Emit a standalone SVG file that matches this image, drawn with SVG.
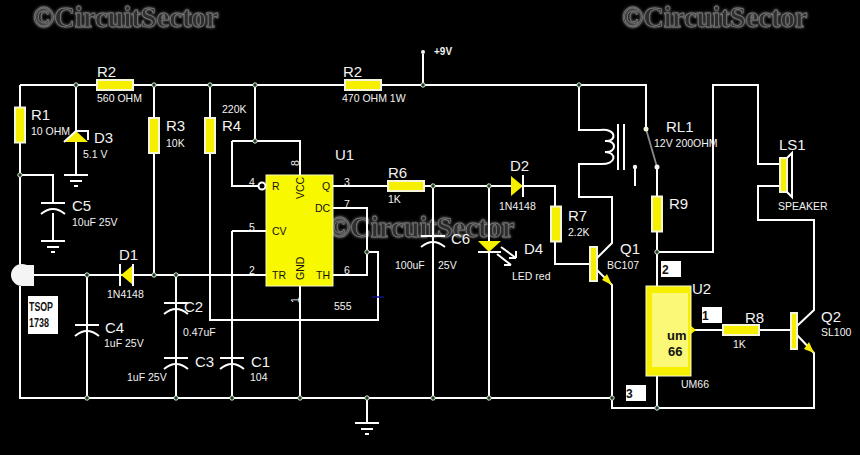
<svg xmlns="http://www.w3.org/2000/svg" width="860" height="455" viewBox="0 0 860 455">
<defs>
<style>
text{font-family:"Liberation Sans",Arial,sans-serif;fill:#f2f2f2}
.b{font-size:15px}
.s{font-size:10.5px}
.c{font-size:10.5px;fill:#111}
.w{fill:none;stroke:#fff;stroke-width:2}
.r{fill:#f6f000;stroke:#f4f4d8;stroke-width:2}
.y{fill:#f6f000}
.p{fill:#f4f4f4}
.wm{font-family:"Liberation Serif",serif;font-weight:bold;font-size:28.500px;fill:#2e2e2e;stroke:#777;stroke-width:.8;filter:url(#glow)}
</style>
<filter id="glow" x="-10%" y="-40%" width="120%" height="180%">
<feGaussianBlur in="SourceAlpha" stdDeviation="1.600" result="bl"/>
<feFlood flood-color="#8a8a8a"/>
<feComposite in2="bl" operator="in" result="halo"/>
<feMerge><feMergeNode in="halo"/><feMergeNode in="SourceGraphic"/></feMerge>
</filter>
<circle id="j" r="2.200" fill="#1c3a20" stroke="#d8e8d8" stroke-width="1"/>
<rect id="rh" x="-18" y="-5" width="36" height="10" class="r"/>
<rect id="rv" x="-5" y="-17.500" width="10" height="35" class="r"/>
<g id="cap"><path class="w" d="M-12 0H12M-12 11Q0 1 12 11"/></g>
<g id="gnd"><path class="w" d="M-12 0H12M-6 6H6M-2 11H2"/></g>
</defs>
<rect width="860" height="455" fill="#000"/>
<g id="watermarks">
<text class="wm" x="33" y="27">©CircuitSector</text>
<text class="wm" x="622" y="27">©CircuitSector</text>
<text class="wm" x="329" y="237">©CircuitSector</text>
</g>
<g id="connectors">
<path class="w" d="M20 85H646V129"/>
<path class="w" d="M423 85V54"/>
<path class="w" d="M20 85V265M20 286V398H612V408H814V353L797 335"/>
<path class="w" d="M20 175H53V203M53 213V241"/>
<path class="w" d="M76 85V131M76 142V175"/>
<path class="w" d="M154 85V275M210 85V320H378V252H367"/>
<path class="w" d="M255 85V141M232 141H300V175M232 141V186H259"/>
<path class="w" d="M232 231H266M232 231V398"/>
<path class="w" d="M34 275H266M87 275V398M176 275V398"/>
<path class="w" d="M300 286V398M367 398V422"/>
<path class="w" d="M333 208H367V275H333"/>
<path class="w" d="M333 186H555V264H589"/>
<path class="w" d="M433 186V398M489 186V398"/>
<path class="w" d="M579 85V130H600M600 164H579V197H612V243L597 258"/>
<path class="w" d="M597 270L612 285V398"/>
<path class="w" d="M657 167V252H713V85H758V164H780M780 186H758V220H814V310L797 326"/>
<path class="w" d="M657 252V286M657 376V408"/>
<path class="w" d="M691 330H791"/>
<path d="M646 129L657 167" fill="none" stroke="#8a8a8a" stroke-width="1.800"/>
<use href="#j" x="76" y="85"/><use href="#j" x="154" y="85"/><use href="#j" x="210" y="85"/><use href="#j" x="255" y="85"/><use href="#j" x="423" y="85"/><use href="#j" x="579" y="85"/>
<use href="#j" x="20" y="175"/><use href="#j" x="255" y="141"/><use href="#j" x="87" y="275"/><use href="#j" x="154" y="275"/><use href="#j" x="176" y="275"/>
<use href="#j" x="367" y="252"/><use href="#j" x="433" y="186"/><use href="#j" x="489" y="186"/><use href="#j" x="657" y="252"/>
<use href="#j" x="87" y="398"/><use href="#j" x="176" y="398"/><use href="#j" x="232" y="398"/><use href="#j" x="300" y="398"/><use href="#j" x="367" y="398"/><use href="#j" x="433" y="398"/><use href="#j" x="489" y="398"/><use href="#j" x="612" y="398"/><use href="#j" x="657" y="408"/>
</g>
<g id="supply"><circle cx="423" cy="52" r="2" class="p"/><text x="434" y="55" font-size="10" font-weight="bold">+9V</text></g>
<g id="R2a"><use href="#rh" x="115" y="85"/><text class="b" x="97" y="77">R2</text><text class="s" x="97" y="102">560 OHM</text></g>
<g id="R2b"><use href="#rh" x="363" y="85"/><text class="b" x="343" y="77">R2</text><text class="s" x="342" y="102">470 OHM 1W</text></g>
<g id="R1"><use href="#rv" x="20" y="125"/><text class="b" x="31" y="120">R1</text><text class="s" x="31" y="135">10 OHM</text></g>
<g id="D3"><path class="y" d="M64 142H88L76 131Z"/><path class="w" d="M64 142L76 131H88V140"/><text class="b" x="94" y="143">D3</text><text class="s" x="83" y="158">5.1 V</text><use href="#gnd" x="76" y="175"/></g>
<g id="C5"><use href="#cap" x="53" y="203"/><text class="b" x="72" y="211">C5</text><text class="s" x="72" y="226">10uF 25V</text><use href="#gnd" x="53" y="241"/></g>
<g id="R3"><use href="#rv" x="154" y="135.500"/><text class="b" x="166" y="131">R3</text><text class="s" x="166" y="147">10K</text></g>
<g id="R4"><use href="#rv" x="210" y="135.500"/><text class="s" x="222" y="113">220K</text><text class="b" x="222" y="131">R4</text></g>
<g id="U1">
<rect x="266" y="175" width="67" height="111" fill="#f8f800" stroke="#f8f8c0"/>
<circle cx="262" cy="186" r="3.500" fill="#000" stroke="#fff" stroke-width="2"/>
<text class="c" x="272" y="190">R</text><text class="c" x="272" y="235">CV</text><text class="c" x="272" y="279">TR</text>
<text class="c" x="322" y="190">Q</text><text class="c" x="315" y="212">DC</text><text class="c" x="316" y="279">TH</text>
<text class="c" transform="translate(304,199) rotate(-90)">VCC</text><text class="c" transform="translate(304,280) rotate(-90)">GND</text>
<text class="s" x="249" y="186">4</text><text class="s" x="249" y="231">5</text><text class="s" x="249" y="274">2</text>
<text class="s" x="344" y="186">3</text><text class="s" x="344" y="208">7</text><text class="s" x="344" y="274">6</text>
<text class="s" transform="translate(299,166) rotate(-90)">8</text><text class="s" transform="translate(299,303) rotate(-90)">1</text>
<text class="b" x="335" y="160">U1</text><text class="s" x="334" y="310">555</text>
<path d="M372 297H384" stroke="#10108a" stroke-width="1.500"/>
</g>
<g id="R6"><use href="#rh" x="406" y="186"/><text class="b" x="388" y="178">R6</text><text class="s" x="388" y="203">1K</text></g>
<g id="C6"><use href="#cap" x="433" y="236"/><text class="b" x="451" y="244">C6</text><text class="s" x="395" y="269">100uF</text><text class="s" x="438" y="269">25V</text></g>
<g id="D2"><path class="y" d="M511 176V196L523 186Z"/><path class="w" d="M523 175V197"/><text class="b" x="510" y="171">D2</text><text class="s" x="499" y="210">1N4148</text></g>
<g id="R7"><use href="#rv" x="556" y="224"/><text class="b" x="568" y="221">R7</text><text class="s" x="568" y="236">2.2K</text></g>
<g id="D4"><path class="y" d="M478 241H501L489 252Z"/><path class="w" d="M478 252H501M501 247L516 258M497 254L511 265M516 258L509 258M516 258L516 251M511 265L504 265"/><text class="b" x="524" y="254">D4</text><text class="s" x="512" y="280">LED red</text></g>
<g id="Q1"><rect x="590" y="247" width="7" height="34" class="r" stroke-width="1"/><path class="y" d="M612 285L602 280L607 274Z"/><text class="b" x="620" y="254">Q1</text><text class="s" x="607" y="269">BC107</text></g>
<g id="RL1">
<path class="w" d="M600 130C617 128 617 142 605 141M605 141C617 140 617 153 605 152M605 152C617 152 617 165 600 164"/>
<path class="w" d="M618 124V170M624 124V170M635 167V186"/>
<circle cx="635" cy="167" r="2.200" class="p"/><circle cx="646" cy="129" r="2.500" fill="#f4f4d8"/><circle cx="657" cy="167" r="2.500" class="p"/>
<text class="b" x="666" y="132">RL1</text><text class="s" x="654" y="147">12V 200OHM</text>
</g>
<g id="R9"><use href="#rv" x="657" y="214"/><text class="b" x="669" y="209">R9</text></g>
<g id="LS1"><rect x="780" y="158" width="7" height="34" class="r" stroke-width="1"/><path class="w" d="M787 158L792 153V197L787 192"/><text class="b" x="779" y="150">LS1</text><text class="s" x="778" y="210">SPEAKER</text></g>
<g id="U2">
<rect x="646" y="286" width="45" height="90" fill="#f6f000" stroke="#f8f8d0"/>
<rect x="652" y="293" width="36" height="74" fill="#fbf878"/>
<path class="y" d="M691 326L696 330L691 334Z"/>
<text x="667" y="340" font-size="13" font-weight="bold" style="fill:#111">um</text>
<text x="668" y="356" font-size="13" font-weight="bold" style="fill:#111">66</text>
<text class="b" x="692" y="294">U2</text><text class="s" x="681" y="388">UM66</text>
<rect x="661" y="261" width="20" height="16" fill="#fff"/><text x="662" y="274" font-size="12" font-weight="bold" style="fill:#111">2</text>
<rect x="702" y="307" width="20" height="16" fill="#fff"/><text x="702" y="320" font-size="12" font-weight="bold" style="fill:#111">1</text>
<rect x="626" y="385" width="20" height="16" fill="#fff"/><text x="626" y="398" font-size="12" font-weight="bold" style="fill:#111">3</text>
</g>
<g id="R8"><use href="#rh" x="741" y="330"/><text class="b" x="745" y="323">R8</text><text class="s" x="733" y="348">1K</text></g>
<g id="Q2"><rect x="791" y="313" width="6" height="36" class="r" stroke-width="1"/><path class="y" d="M814 353L804 349L809 342Z"/><text class="b" x="821" y="322">Q2</text><text class="s" x="821" y="336">SL100</text></g>
<g id="TSOP"><circle cx="22" cy="275" r="11" class="p"/><rect x="22" y="265" width="12" height="21" class="p"/>
<rect x="28" y="296" width="30" height="38" fill="#fff"/><text x="29" y="311" font-size="13" font-weight="bold" textLength="24" lengthAdjust="spacingAndGlyphs" style="fill:#111">TSOP</text><text x="29" y="327" font-size="13" font-weight="bold" textLength="20" lengthAdjust="spacingAndGlyphs" style="fill:#111">1738</text></g>
<g id="D1"><path class="y" d="M121 275L133 265V285Z"/><path class="w" d="M120 264V286M133 264V286"/><text class="b" x="119" y="260">D1</text><text class="s" x="107" y="298">1N4148</text></g>
<g id="C4"><use href="#cap" x="87" y="325"/><text class="b" x="105" y="333">C4</text><text class="s" x="104" y="347">1uF 25V</text></g>
<g id="C2"><use href="#cap" x="176" y="303"/><text class="b" x="184" y="312">C2</text><text class="s" x="183" y="336">0.47uF</text></g>
<g id="C3"><use href="#cap" x="176" y="358"/><text class="b" x="195" y="367">C3</text><text class="s" x="127" y="381">1uF 25V</text></g>
<g id="C1"><use href="#cap" x="232" y="358"/><text class="b" x="251" y="367">C1</text><text class="s" x="250" y="381">104</text></g>
<g id="GND"><use href="#gnd" x="367" y="423"/></g>
</svg>
